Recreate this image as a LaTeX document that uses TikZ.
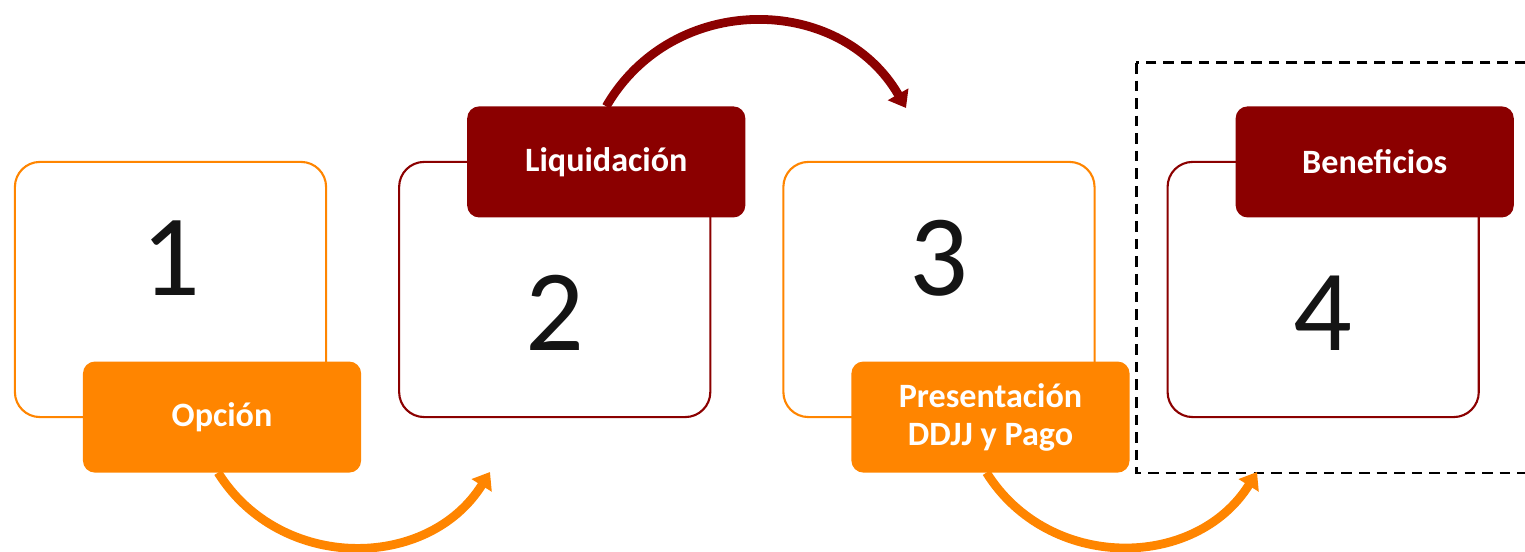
\documentclass[tikz,border=0pt]{standalone}
\usepackage{fontspec}
\setmainfont{Carlito}
\definecolor{deepred}{HTML}{8B0000}
\definecolor{tangerine}{HTML}{FF8500}
\definecolor{inkblack}{HTML}{141414}
\usetikzlibrary{arrows.meta, positioning}
\begin{document}
\begin{tikzpicture}[x=0.01cm, y=0.01cm, >={Triangle[length=4.5pt, width=6.5pt]}, Box/.style={draw, line width=0.6pt, fill=white, rounded corners=0.25cm, minimum width=3.11cm, minimum height=2.55cm, inner sep=0pt, outer sep=0pt}, Tab/.style={fill=#1, text=white, rounded corners=0.12cm, minimum width=2.78cm, minimum height=1.11cm, inner sep=0pt, outer sep=0pt, align=center, font={\bfseries\fontsize{9.7}{10.8}\selectfont}}, Num/.style={text=inkblack, inner sep=0pt, font={\fontsize{33}{36}\selectfont}}, Flow/.style={->, line width=2.5pt, color=#1}]
\useasboundingbox (0,0) rectangle (1525,552);
\clip (0,0) rectangle (1525,552);
\draw[black, line width=0.85pt, dash pattern=on 3pt off 2pt] (1136,489) rectangle (1545,79);
% the four steps
\node[Box, draw=tangerine] (b1) at (170.5,262.5) {};
\node[Box, draw=deepred, right=0.73cm of b1] (b2) {};
\node[Box, draw=tangerine, right=0.73cm of b2] (b3) {};
\node[Box, draw=deepred, right=0.73cm of b3] (b4) {};
\node[Num] (n1) at ([yshift=0.31cm]b1.center) {1};
\node[Num] (n2) at ([yshift=-0.235cm]b2.center) {2};
\node[Num] (n3) at ([yshift=0.31cm]b3.center) {3};
\node[Num] (n4) at ([yshift=-0.235cm]b4.center) {4};
\node[Tab=tangerine] (t1) at ([xshift=-1.04cm]b1.south east) {Opción};
\node[Tab=deepred] (t2) at ([xshift=-1.04cm]b2.north east) {Liquidación};
\node[Tab=tangerine] (t3) at ([xshift=-1.04cm]b3.south east) {Presentación\\DDJJ y Pago};
\node[Tab=deepred] (t4) at ([xshift=-1.04cm]b4.north east) {Beneficios};
% arrows between the steps
\coordinate (e1) at (490,80);
\coordinate (e2) at (906,444);
\coordinate (e3) at (1257,80);
\draw[Flow=tangerine] ([xshift=-0.04cm]t1.south) to[out=-58, in=-122, looseness=1.1] (e1);
\draw[Flow=deepred] (t2.north) to[out=60, in=120, looseness=1.13] (e2);
\draw[Flow=tangerine] ([xshift=-0.04cm]t3.south) to[out=-58, in=-122, looseness=1.1] (e3);
\end{tikzpicture}
\end{document}
